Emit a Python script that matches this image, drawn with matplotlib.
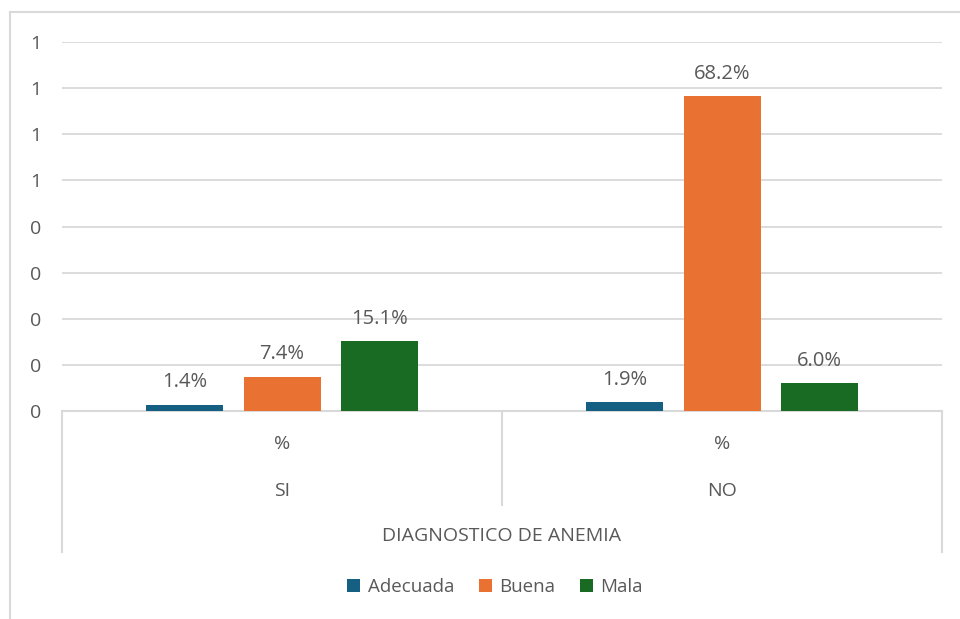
import matplotlib.pyplot as plt
from matplotlib.lines import Line2D
from matplotlib.patches import Patch

groups = ["SI", "NO"]
series = ["Adecuada", "Buena", "Mala"]
adecuada = [0.014, 0.019]
buena = [0.074, 0.682]
mala = [0.151, 0.060]
ytick_vals = [0, 0.1, 0.2, 0.3, 0.4, 0.5, 0.6, 0.7, 0.8]
ytick_labels = ["0", "0", "0", "0", "0", "1", "1", "1", "1"]

colors = ["#156082", "#E97132", "#196B24"]
grey = "#595959"
line_grey = "#D9D9D9"

plt.rcParams["font.family"] = ["Open Sans", "DejaVu Sans"]

fig = plt.figure(figsize=(9.6, 6.19), dpi=100)
W, H = 960, 619
ax = fig.add_axes([62 / W, 1 - 411 / H, 880 / W, 369 / H])

# outer chart border (only top/left visible in the crop)
fig.add_artist(Line2D([10 / W, 1], [1 - 12 / H] * 2, color=line_grey, lw=1.5))
fig.add_artist(Line2D([10 / W] * 2, [0, 1 - 12 / H], color=line_grey, lw=1.5))

width = 0.175
step = 0.2216
x = range(len(groups))
for i, (vals, col) in enumerate(zip([adecuada, buena, mala], colors)):
    pos = [xi + (i - 1) * step for xi in x]
    bars = ax.bar(pos, vals, width=width, color=col, zorder=3)
    for b, v in zip(bars, vals):
        ax.annotate(f"{v * 100:.1f}%", (b.get_x() + b.get_width() / 2, v),
                    xytext=(0, 9), textcoords="offset points",
                    ha="center", va="bottom", fontsize=14.5, color=grey)

ax.set_xlim(-0.5, 1.5)
ax.set_ylim(0, 0.8)
ax.set_yticks(ytick_vals)
ax.set_yticklabels(ytick_labels, fontsize=14, color=grey)
ax.tick_params(axis="y", length=0, pad=15)
ax.set_xticks([])
ax.grid(axis="y", color=line_grey, lw=1.3, zorder=0)
for s in ["top", "right", "left"]:
    ax.spines[s].set_visible(False)
ax.spines["bottom"].set_color(line_grey)
ax.spines["bottom"].set_linewidth(1.5)

# multi-level category axis
kw = dict(transform=ax.transAxes, clip_on=False, color=line_grey, lw=1.5)
ax.plot([0, 0], [0, -0.382], **kw)
ax.plot([1, 1], [0, -0.382], **kw)
ax.plot([0.5, 0.5], [0, -0.255], **kw)
for xi, g in zip([0.25, 0.75], groups):
    ax.text(xi, -0.089, "%", transform=ax.transAxes, ha="center", va="center",
            fontsize=14, color=grey)
    ax.text(xi, -0.217, g, transform=ax.transAxes, ha="center", va="center",
            fontsize=14, color=grey)
ax.text(0.5, -0.339, "DIAGNOSTICO DE ANEMIA", transform=ax.transAxes,
        ha="center", va="center", fontsize=14, color=grey)

handles = [Patch(facecolor=c, label=s) for c, s in zip(colors, series)]
fig.legend(handles=handles, loc="center", bbox_to_anchor=(495 / W, 1 - 587 / H),
           ncol=3, frameon=False, fontsize=13.5, labelcolor=grey,
           handlelength=0.7, handleheight=0.7, handletextpad=0.4, columnspacing=1.3)

fig.savefig("out.png", dpi=100)
